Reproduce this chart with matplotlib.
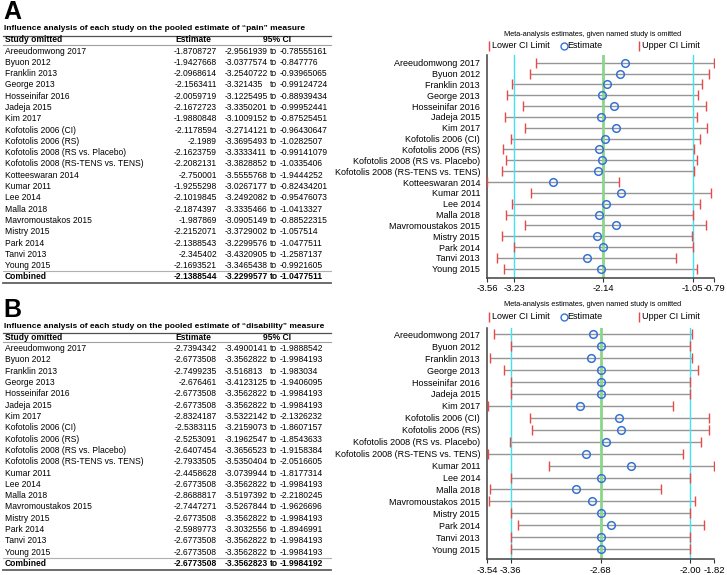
import numpy as np
import matplotlib
matplotlib.use('Agg')
import matplotlib.pyplot as plt
from matplotlib.lines import Line2D

plt.rcParams['font.family'] = ['Liberation Sans', 'DejaVu Sans']

# ---------------- data: "pain" ----------------
pain_studies = ["Areeudomwong 2017", "Byuon 2012", "Franklin 2013", "George 2013",
                "Hosseinifar 2016", "Jadeja 2015", "Kim 2017", "Kofotolis 2006 (CI)",
                "Kofotolis 2006 (RS)", "Kofotolis 2008 (RS vs. Placebo)",
                "Kofotolis 2008 (RS-TENS vs. TENS)", "Kotteeswaran 2014", "Kumar 2011",
                "Lee 2014", "Malla 2018", "Mavromoustakos 2015", "Mistry 2015",
                "Park 2014", "Tanvi 2013", "Young 2015"]
pain_est = [-1.8708727, -1.9427668, -2.0968614, -2.1563411, -2.0059719, -2.1672723,
            -1.9880848, -2.1178594, -2.1989, -2.1623759, -2.2082131, -2.750001,
            -1.9255298, -2.1019845, -2.1874397, -1.987869, -2.2152071, -2.1388543,
            -2.345402, -2.1693521]
pain_lo = [-2.9561939, -3.0377574, -3.2540722, -3.321435, -3.1225495, -3.3350201,
           -3.1009152, -3.2714121, -3.3695493, -3.3333411, -3.3828852, -3.5555768,
           -3.0267177, -3.2492082, -3.3335466, -3.0905149, -3.3729002, -3.2299576,
           -3.4320905, -3.3465438]
pain_hi = [-0.78555161, -0.847776, -0.93965065, -0.99124724, -0.88939434, -0.99952441,
           -0.87525451, -0.96430647, -1.0282507, -0.99141079, -1.0335406, -1.9444252,
           -0.82434201, -0.95476073, -1.0413327, -0.88522315, -1.057514, -1.0477511,
           -1.2587137, -0.9921605]
pain_combined = [-2.1388544, -3.2299577, -1.0477511]   # estimate, lower, upper
pain_ticks = [-3.56, -3.23, -2.14, -1.05, -0.79]

# ---------------- data: "disability" ----------------
dis_studies = ["Areeudomwong 2017", "Byuon 2012", "Franklin 2013", "George 2013",
               "Hosseinifar 2016", "Jadeja 2015", "Kim 2017", "Kofotolis 2006 (CI)",
               "Kofotolis 2006 (RS)", "Kofotolis 2008 (RS vs. Placebo)",
               "Kofotolis 2008 (RS-TENS vs. TENS)", "Kumar 2011", "Lee 2014",
               "Malla 2018", "Mavromoustakos 2015", "Mistry 2015", "Park 2014",
               "Tanvi 2013", "Young 2015"]
dis_est = [-2.7394342, -2.6773508, -2.7499235, -2.676461, -2.6773508, -2.6773508,
           -2.8324187, -2.5383115, -2.5253091, -2.6407454, -2.7933505, -2.4458628,
           -2.6773508, -2.8688817, -2.7447271, -2.6773508, -2.5989773, -2.6773508,
           -2.6773508]
dis_lo = [-3.4900141, -3.3562822, -3.516813, -3.4123125, -3.3562822, -3.3562822,
          -3.5322142, -3.2159073, -3.1962547, -3.3656523, -3.5350404, -3.0739944,
          -3.3562822, -3.5197392, -3.5267844, -3.3562822, -3.3032556, -3.3562822,
          -3.3562822]
dis_hi = [-1.9888542, -1.9984193, -1.983034, -1.9406095, -1.9984193, -1.9984193,
          -2.1326232, -1.8607157, -1.8543633, -1.9158384, -2.0516605, -1.8177314,
          -1.9984193, -2.2180245, -1.9626696, -1.9984193, -1.8946991, -1.9984193,
          -1.9984193]
dis_combined = [-2.6773508, -3.3562823, -1.9984192]
dis_ticks = [-3.54, -3.36, -2.68, -2.00, -1.82]

# ---------------- layout helpers ----------------
W, H = 727, 575
fig = plt.figure(figsize=(W / 100, H / 100), dpi=100)


def fx(px):
    return px / W


def fy(py):
    return 1 - py / H


def hrule(y, x0, x1, color, lw):
    fig.add_artist(Line2D([fx(x0), fx(x1)], [fy(y), fy(y)], color=color, lw=lw,
                          transform=fig.transFigure))


BODY = 6.15
RED = '#ee4646'
BLUE = '#3572d6'
GRAY = '#959595'
CYAN = '#3fe3ef'
GREEN = '#8ad68a'


def table(y0, letter, measure, studies, est, lo, hi, comb):
    step = 11.3
    fig.text(fx(3), fy(y0 - 17), letter, fontsize=18, fontweight='bold',
             va='center', ha='left')
    fig.text(fx(4), fy(y0), 'Influence analysis of each study on the pooled estimate of '
             '\u201c' + measure + '\u201d measure', fontsize=6.05, fontweight='bold',
             va='center', ha='left')
    hrule(y0 + 6.5, 3, 331, '#505050', 0.9)
    fig.text(fx(5), fy(y0 + 11), 'Study omitted', fontsize=BODY, fontweight='bold',
             va='center', ha='left')
    fig.text(fx(193), fy(y0 + 11), 'Estimate', fontsize=BODY, fontweight='bold',
             va='center', ha='center')
    fig.text(fx(277), fy(y0 + 11), '95% CI', fontsize=BODY, fontweight='bold',
             va='center', ha='center')
    hrule(y0 + 15.5, 3, 331, '#a0a0a0', 0.8)

    def row(y, name, e, l, h, weight):
        fig.text(fx(5), fy(y), name, fontsize=BODY, fontweight=weight, va='center', ha='left')
        fig.text(fx(217), fy(y), str(e), fontsize=BODY, fontweight=weight, va='center', ha='right')
        fig.text(fx(225), fy(y), str(l), fontsize=BODY, fontweight=weight, va='center', ha='left')
        fig.text(fx(270), fy(y), 'to', fontsize=BODY, fontweight=weight, va='center', ha='left')
        fig.text(fx(279.5), fy(y), str(h), fontsize=BODY, fontweight=weight, va='center', ha='left')

    ys = y0 + 22 + step * np.arange(len(studies))
    for y, n, e, l, h in zip(ys, studies, est, lo, hi):
        row(y, n, e, l, h, 'normal')
    yl = ys[-1]
    hrule(yl + 5.6, 3, 331, '#b0b0b0', 0.8)
    row(yl + 11.2, 'Combined', comb[0], comb[1], comb[2], 'bold')
    hrule(yl + 17.5, 3, 331, '#606060', 1.3)


def forest(top_px, bottom_px, row0_px, title_px, legend_px, studies, est, lo, hi, comb, ticks):
    n = len(studies)
    ax = fig.add_axes([fx(487), fy(bottom_px), fx(714) - fx(487),
                       (bottom_px - top_px) / H])
    y = np.arange(n)
    ax.hlines(y, lo, hi, color=GRAY, lw=1.0, zorder=1)
    ax.axvline(comb[1], color=CYAN, lw=1.0, zorder=2)
    ax.axvline(comb[2], color=CYAN, lw=1.0, zorder=2)
    ax.axvline(comb[0], color=GREEN, lw=2.0, zorder=2)
    ax.plot(lo, y, ls='none', marker='|', color=RED, ms=7, mew=1.0, zorder=3)
    ax.plot(hi, y, ls='none', marker='|', color=RED, ms=7, mew=1.0, zorder=3)
    ax.plot(est, y, ls='none', marker='o', mfc='none', mec=BLUE, ms=5.5, mew=1.1, zorder=4)
    ax.set_xlim(ticks[0], ticks[-1])
    step = (bottom_px - row0_px) / (n - 1 + 0.85)
    top_val = -(row0_px - top_px) / step
    bot_val = (bottom_px - row0_px) / step
    ax.set_ylim(bot_val, top_val)
    ax.set_yticks(y)
    ax.set_yticklabels(studies, fontsize=6.5)
    ax.tick_params(axis='y', length=0, pad=5)
    ax.set_xticks(ticks)
    ax.set_xticklabels(['%.2f' % t for t in ticks], fontsize=6.8)
    ax.tick_params(axis='x', length=3, width=0.8, pad=1.5, color='#333333')
    for s in ('top', 'right'):
        ax.spines[s].set_visible(False)
    for s in ('left', 'bottom'):
        ax.spines[s].set_color('#404040')
        ax.spines[s].set_linewidth(1.1)
    ax.patch.set_alpha(0)

    fig.text(fx(593), fy(title_px), 'Meta-analysis estimates, given named study is omitted',
             fontsize=5.3, ha='center', va='center')
    ly = fy(legend_px)
    for xm, mk, col, label in [(489, '|', RED, 'Lower CI Limit'),
                               (563.5, 'o', BLUE, 'Estimate'),
                               (639, '|', RED, 'Upper CI Limit')]:
        if mk == 'o':
            fig.add_artist(Line2D([fx(xm)], [ly], ls='none', marker='o', mfc='none', mec=col,
                                  ms=5, mew=1.0, transform=fig.transFigure))
        else:
            fig.add_artist(Line2D([fx(xm)], [ly], ls='none', marker='|', color=col,
                                  ms=7, mew=1.0, transform=fig.transFigure))
        fig.text(fx(xm + 3.5), ly, label, fontsize=6.5, ha='left', va='center')
    return ax


table(29, 'A', 'pain', pain_studies, pain_est, pain_lo, pain_hi, pain_combined)
table(326.7, 'B', 'disability', dis_studies, dis_est, dis_lo, dis_hi, dis_combined)

forest(55, 278, 62.7, 35, 46, pain_studies, pain_est, pain_lo, pain_hi, pain_combined,
       pain_ticks)
forest(328, 559.3, 334.3, 305, 316.7, dis_studies, dis_est, dis_lo, dis_hi, dis_combined,
       dis_ticks)

fig.savefig('out.png', dpi=100)
